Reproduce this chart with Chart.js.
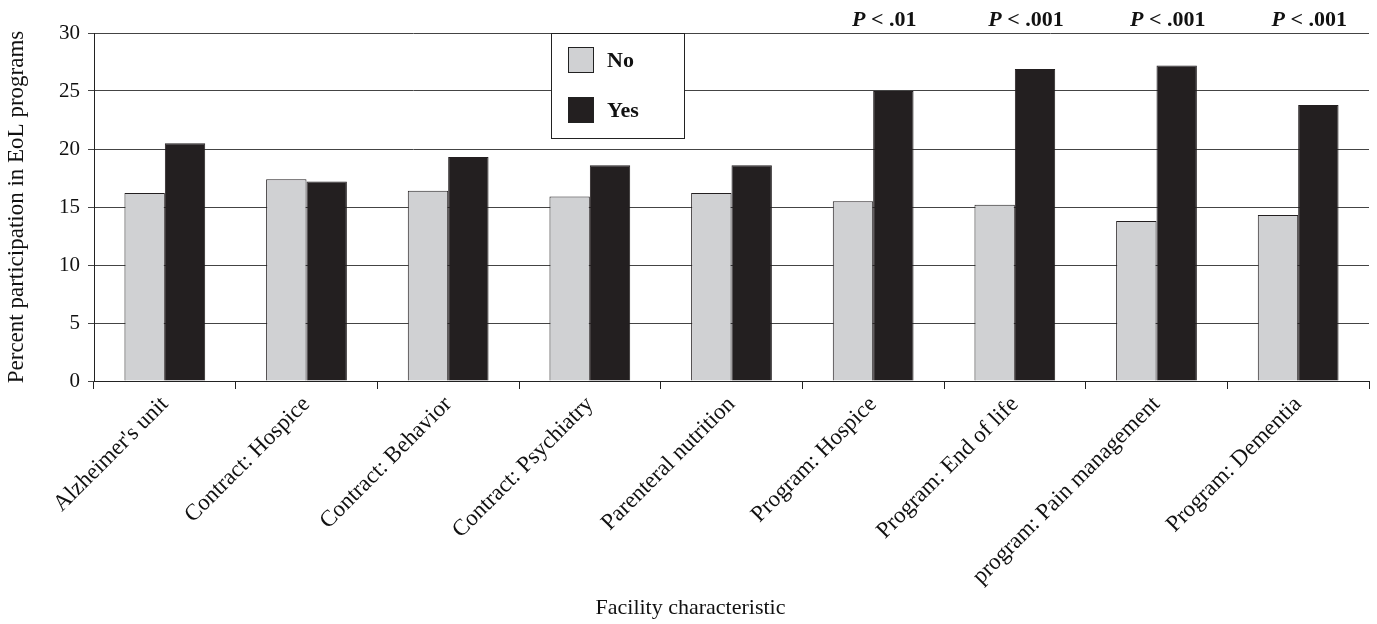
<!DOCTYPE html>
<html>
<head>
<meta charset="utf-8">
<script src="https://cdn.jsdelivr.net/npm/chart.js@4.4.0/dist/chart.umd.min.js"></script>
<style>
  body { margin: 0; background: #fff; }
  #wrap { width: 1377px; height: 624px; }
</style>
</head>
<body>
<div id="wrap"><canvas id="chart" width="1377" height="624"></canvas></div>
<script>
const categories = [
    "Alzheimer's unit", 'Contract: Hospice', 'Contract: Behavior', 'Contract: Psychiatry',
    'Parenteral nutrition', 'Program: Hospice', 'Program: End of life',
    'program: Pain management', 'Program: Dementia'
];
const noValues = [16.2, 17.4, 16.4, 15.9, 16.2, 15.5, 15.2, 13.8, 14.3];
const yesValues = [20.5, 17.2, 19.3, 18.6, 18.6, 25.0, 26.9, 27.2, 23.8];
const pLabels = ['', '', '', '', '', '.01', '.001', '.001', '.001'];
const yTicks = [0, 5, 10, 15, 20, 25, 30];
const xTitle = 'Facility characteristic';

const serif = "'Liberation Serif', 'Times New Roman', serif";

// legend box in the plot, P values above the bars, x title
const extras = {
    id: 'extras',
    afterDraw(chart) {
        const ctx = chart.ctx;
        const area = chart.chartArea;
        ctx.save();

        // p values
        const yesMeta = chart.getDatasetMeta(1);
        ctx.textBaseline = 'alphabetic';
        ctx.fillStyle = '#111';
        pLabels.forEach(function (p, i) {
            if (!p) return;
            const bar = yesMeta.data[i];
            const first = 'P';
            const rest = ' < ' + p;
            ctx.font = "italic bold 22px " + serif;
            const w1 = ctx.measureText(first).width;
            ctx.font = "bold 22px " + serif;
            const w2 = ctx.measureText(rest).width;
            const x0 = bar.x - 9 - (w1 + w2) / 2;
            ctx.textAlign = 'left';
            ctx.font = "italic bold 22px " + serif;
            ctx.fillText(first, x0, area.top - 7);
            ctx.font = "bold 22px " + serif;
            ctx.fillText(rest, x0 + w1, area.top - 7);
        });

        // x axis title
        ctx.font = "22px " + serif;
        ctx.textAlign = 'center';
        ctx.textBaseline = 'alphabetic';
        ctx.fillText(xTitle, (area.left + area.right) / 2 - 41, chart.height - 10);

        // legend
        const lx = area.left + 457, ly = area.top, lw = 133, lh = 105;
        ctx.fillStyle = '#fff';
        ctx.fillRect(lx, ly, lw, lh);
        ctx.strokeStyle = '#222';
        ctx.lineWidth = 1;
        ctx.strokeRect(lx + 0.5, ly + 0.5, lw, lh);
        chart.data.datasets.forEach(function (ds, i) {
            const sy = ly + 14 + i * 50;
            ctx.fillStyle = ds.backgroundColor;
            ctx.fillRect(lx + 17, sy, 25, 25);
            ctx.strokeStyle = '#222';
            ctx.strokeRect(lx + 17.5, sy + 0.5, 25, 25);
            ctx.fillStyle = '#111';
            ctx.font = "bold 22px " + serif;
            ctx.textAlign = 'left';
            ctx.textBaseline = 'middle';
            ctx.fillText(ds.label, lx + 56, sy + 14);
        });
        ctx.restore();
    }
};

const chart = new Chart(document.getElementById('chart').getContext('2d'), {
    type: 'bar',
    data: {
        labels: categories,
        datasets: [
            {
                label: 'No',
                data: noValues,
                backgroundColor: '#d0d1d3',
                borderColor: '#231f20',
                borderWidth: 1,
                categoryPercentage: 0.57,
                barPercentage: 1.0
            },
            {
                label: 'Yes',
                data: yesValues,
                backgroundColor: '#231f20',
                borderColor: '#231f20',
                borderWidth: 1,
                categoryPercentage: 0.57,
                barPercentage: 1.0
            }
        ]
    },
    options: {
        responsive: false,
        animation: false,
        layout: { padding: { top: 33, right: 8, left: 0, bottom: 0 } },
        plugins: {
            legend: { display: false },
            tooltip: { enabled: false }
        },
        scales: {
            x: {
                grid: {
                    offset: true,
                    drawOnChartArea: false,
                    drawTicks: true,
                    tickLength: 8,
                    color: '#222'
                },
                border: { color: '#222', width: 1 },
                ticks: {
                    minRotation: 45,
                    maxRotation: 45,
                    autoSkip: false,
                    padding: 2,
                    color: '#111',
                    font: { family: serif, size: 23 }
                },
                afterFit: function (scale) { scale.height = 243; }
            },
            y: {
                min: 0,
                max: 30,
                afterBuildTicks: function (scale) {
                    scale.ticks = yTicks.map(function (v) { return { value: v }; });
                },
                grid: {
                    color: '#444',
                    lineWidth: 1,
                    tickLength: 6
                },
                border: { color: '#222', width: 1 },
                ticks: {
                    padding: 8,
                    color: '#111',
                    font: { family: serif, size: 21 }
                },
                title: {
                    display: true,
                    text: 'Percent participation in EoL programs',
                    color: '#111',
                    font: { family: serif, size: 23 },
                    padding: { top: 3, bottom: 3 }
                },
                afterFit: function (scale) { scale.width = 94; }
            }
        }
    },
    plugins: [extras]
});
</script>
</body>
</html>
